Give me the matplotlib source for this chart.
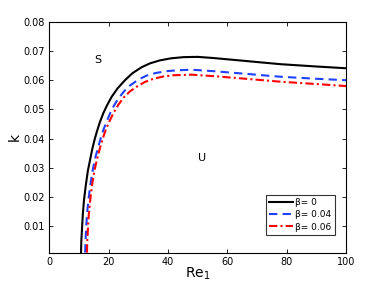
import numpy as np
import matplotlib.pyplot as plt

# neutral curves k(Re_1) for three values of beta
re_b0 = [10.7, 10.8, 11.0, 11.3, 11.7, 12.3, 13.0, 13.8, 14.5, 15.3, 16.0, 17.0, 18.2, 19.5, 21.0, 23.0, 25.5,
         28.0, 31.2, 34.0, 37.3, 41.0, 45.2, 50.0, 55.3, 65.0, 77.8, 90.0, 100.0]
k_b0 = [0.001, 0.005, 0.0087, 0.014, 0.019, 0.024, 0.029, 0.033, 0.0365, 0.0398, 0.0423, 0.0455, 0.0487, 0.0515, 0.0543, 0.0572, 0.0600,
        0.0624, 0.0645, 0.0658, 0.0668, 0.0675, 0.0679, 0.0680, 0.0676, 0.0667, 0.0655, 0.0647, 0.0641]

re_b4 = [12.1, 12.2, 12.4, 12.7, 13.2, 13.8, 14.6, 15.4, 16.3, 17.3, 18.3, 19.4, 20.5, 21.8, 23.3, 25.2, 27.2,
         30.0, 32.8, 36.0, 39.6, 43.0, 48.0, 55.3, 65.0, 77.8, 90.0, 100.0]
k_b4 = [0.001, 0.005, 0.0087, 0.014, 0.019, 0.024, 0.029, 0.033, 0.0365, 0.040, 0.0432, 0.046, 0.0487, 0.0513, 0.0538, 0.0562, 0.0582,
        0.0602, 0.0616, 0.0625, 0.0631, 0.0634, 0.0636, 0.0631, 0.0623, 0.0612, 0.0605, 0.0600]

re_b6 = [12.7, 12.8, 13.0, 13.3, 13.8, 14.4, 15.2, 16.1, 17.0, 18.0, 19.1, 20.3, 21.6, 23.2, 25.0, 27.2, 29.5,
         32.2, 35.1, 38.5, 41.8, 48.0, 55.3, 65.0, 77.8, 90.0, 100.0]
k_b6 = [0.001, 0.005, 0.0087, 0.014, 0.019, 0.024, 0.029, 0.033, 0.0365, 0.040, 0.0432, 0.046, 0.0487, 0.0515, 0.0540, 0.0562, 0.0578,
        0.0594, 0.0605, 0.0613, 0.0617, 0.0619, 0.0614, 0.0606, 0.0595, 0.0587, 0.0580]

labels = ['\u03b2= 0', '\u03b2= 0.04', '\u03b2= 0.06']

fig = plt.figure(figsize=(3.82, 2.87), dpi=100)
ax = fig.add_axes([0.129, 0.12, 0.777, 0.804])

ax.plot(re_b0, k_b0, color='black', lw=1.5, label=labels[0])
ax.plot(re_b4, k_b4, color='#1f40ff', lw=1.5, ls=(0, (4, 2.5)), label=labels[1])
ax.plot(re_b6, k_b6, color='red', lw=1.5, ls=(0, (4, 1.5, 1, 1.5)), label=labels[2])

ax.set_xlim(0, 100)
ax.set_ylim(0.001, 0.08)
ax.set_xticks([0, 20, 40, 60, 80, 100])
ax.set_yticks([0.01, 0.02, 0.03, 0.04, 0.05, 0.06, 0.07, 0.08])
ax.tick_params(direction='in', top=True, right=True, labelsize=7, length=3, width=0.6)
for s in ax.spines.values():
    s.set_linewidth(0.8)

ax.text(16.5, 0.067, 'S', fontsize=8, ha='center', va='center')
ax.text(51.5, 0.0335, 'U', fontsize=8, ha='center', va='center')

ax.set_xlabel('Re$_1$', fontsize=10, labelpad=-1)
ax.set_ylabel('k', fontsize=10, labelpad=1)

leg = ax.legend(loc='lower right', fontsize=6.5, frameon=True, fancybox=False,
                edgecolor='black', handlelength=2.6, borderpad=0.35,
                labelspacing=0.35, handletextpad=0.3, borderaxespad=0,
                bbox_to_anchor=(0.962, 0.077))
leg.get_frame().set_linewidth(0.8)

fig.savefig('out.png', dpi=100)
